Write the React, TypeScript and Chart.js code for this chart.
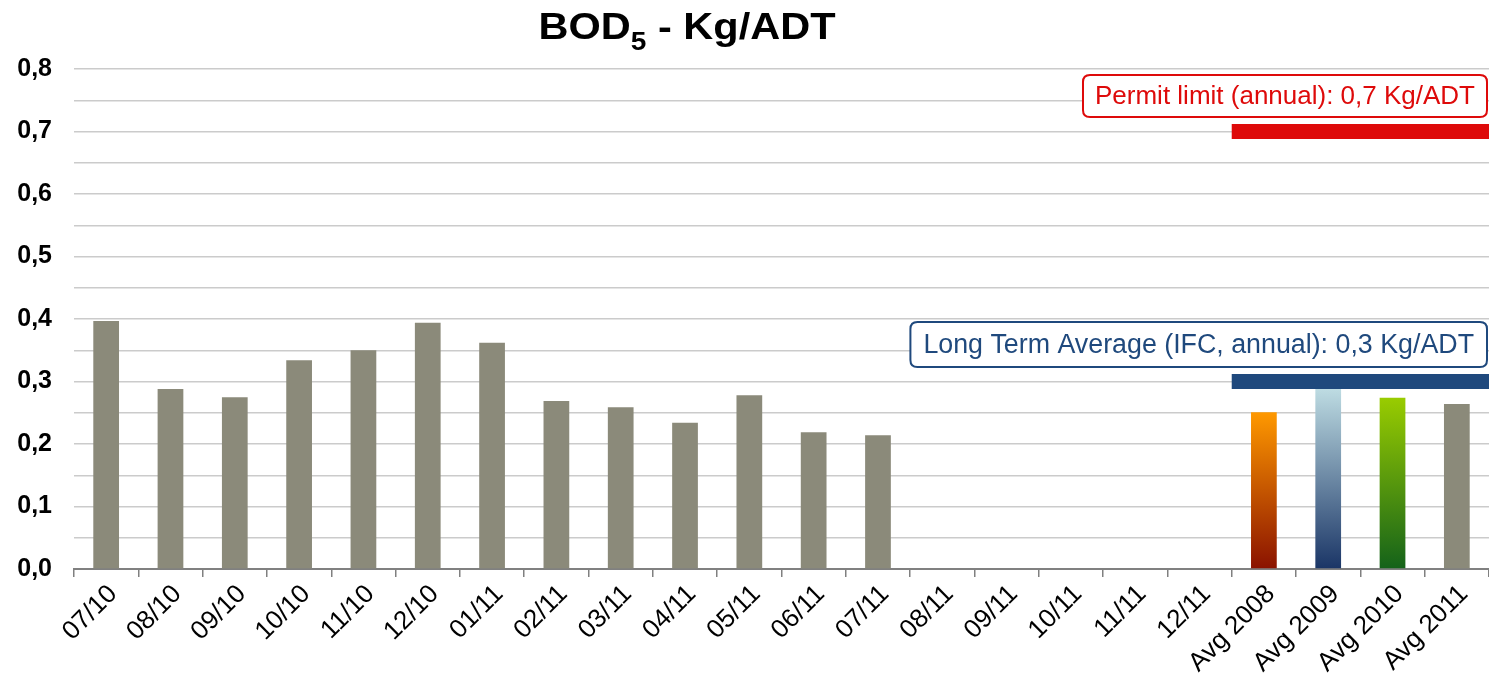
import React, { useEffect, useRef } from 'react';
import { Chart, registerables } from 'chart.js';

Chart.register(...registerables);

// ---- data ----
const categories = [
  '07/10', '08/10', '09/10', '10/10', '11/10', '12/10', '01/11', '02/11', '03/11',
  '04/11', '05/11', '06/11', '07/11', '08/11', '09/11', '10/11', '11/11', '12/11',
  'Avg 2008', 'Avg 2009', 'Avg 2010', 'Avg 2011',
];
const bodValues: (number | null)[] = [
  0.397, 0.288, 0.275, 0.334, 0.350, 0.394, 0.362, 0.269, 0.259,
  0.234, 0.278, 0.219, 0.214, null, null, null, null, null,
  0.251, 0.292, 0.274, 0.264,
];
const yMin = 0;
const yMax = 0.8;
const yGridStep = 0.05;
const permitLimit = 0.7;
const permitLabel = 'Permit limit (annual): 0,7 Kg/ADT';
const longTermAvg = 0.3;
const longTermLabel = 'Long Term Average (IFC, annual): 0,3 Kg/ADT';
const limitStartCategory = 'Avg 2008';
const titleMain = 'BOD';
const titleSub = '5';
const titleRest = ' - Kg/ADT';

// ---- styles ----
const GRAY = '#8B8A7A';
const barFills: Record<string, [string, string]> = {
  'Avg 2008': ['#FF9900', '#8A1200'],
  'Avg 2009': ['#C0DEE4', '#1A3566'],
  'Avg 2010': ['#99CC00', '#14621A'],
};
const RED = '#DE0A0A';
const BLUE = '#1F497D';
const FONT = '"Liberation Sans", Arial, sans-serif';

function roundRectPath(ctx: CanvasRenderingContext2D, x: number, y: number, w: number, h: number, r: number) {
  ctx.beginPath();
  ctx.moveTo(x + r, y);
  ctx.lineTo(x + w - r, y);
  ctx.quadraticCurveTo(x + w, y, x + w, y + r);
  ctx.lineTo(x + w, y + h - r);
  ctx.quadraticCurveTo(x + w, y + h, x + w - r, y + h);
  ctx.lineTo(x + r, y + h);
  ctx.quadraticCurveTo(x, y + h, x, y + h - r);
  ctx.lineTo(x, y + r);
  ctx.quadraticCurveTo(x, y, x + r, y);
  ctx.closePath();
}

const overlayPlugin = {
  id: 'overlay',
  afterDatasetsDraw(chart: any) {
    const { ctx, chartArea } = chart;
    const xs = chart.scales.x;
    const ys = chart.scales.y;
    const idx = categories.indexOf(limitStartCategory);
    const c0 = xs.getPixelForValue(idx);
    const c1 = xs.getPixelForValue(idx + 1);
    const left = c0 - (c1 - c0) / 2;
    const right = chartArea.right;

    const drawLimit = (value: number, color: string, label: string, boxH: number, fontSize: number, pad: number) => {
      const y = ys.getPixelForValue(value);
      const thick = 15;
      ctx.save();
      ctx.fillStyle = color;
      ctx.fillRect(left, y - thick / 2, right - left, thick);
      ctx.font = `${fontSize}px ${FONT}`;
      const tw = ctx.measureText(label).width;
      const bw = tw + pad * 2;
      const bx = right - 2 - bw;
      const by = y - thick / 2 - 7 - boxH;
      roundRectPath(ctx, bx, by, bw, boxH, 7);
      ctx.fillStyle = '#FFFFFF';
      ctx.fill();
      ctx.lineWidth = 2;
      ctx.strokeStyle = color;
      ctx.stroke();
      ctx.fillStyle = color;
      ctx.textAlign = 'left';
      ctx.textBaseline = 'middle';
      ctx.fillText(label, bx + pad, by + boxH / 2 + 1);
      ctx.restore();
    };
    drawLimit(longTermAvg, BLUE, longTermLabel, 45, 26.8, 13);
    drawLimit(permitLimit, RED, permitLabel, 42, 26, 12);
  },
  afterDraw(chart: any) {
    const { ctx } = chart;
    ctx.save();
    ctx.fillStyle = '#000000';
    ctx.textBaseline = 'alphabetic';
    ctx.textAlign = 'left';
    ctx.font = `bold 37px ${FONT}`;
    const w1 = ctx.measureText(titleMain).width;
    const w3 = ctx.measureText(titleRest).width;
    ctx.font = `bold 25px ${FONT}`;
    const w2 = ctx.measureText(titleSub).width;
    const raw = w1 + w2 + w3;
    const sx = 297 / raw;
    const cx = 687;
    ctx.translate(cx - 297 / 2, 0);
    ctx.scale(sx, 1);
    ctx.font = `bold 37px ${FONT}`;
    ctx.fillText(titleMain, 0, 39);
    ctx.font = `bold 25px ${FONT}`;
    ctx.fillText(titleSub, w1, 50);
    ctx.font = `bold 37px ${FONT}`;
    ctx.fillText(titleRest, w1 + w2, 39);
    ctx.restore();
  },
};

export default function App() {
  const ref = useRef<HTMLCanvasElement | null>(null);
  useEffect(() => {
    document.body.style.margin = '0';
    if (!ref.current) return;
    const chart = new Chart(ref.current, {
      type: 'bar',
      data: {
        labels: categories,
        datasets: [
          {
            data: bodValues,
            backgroundColor: (c: any) => {
              const cat = categories[c.dataIndex];
              const fill = barFills[cat];
              if (!fill) return GRAY;
              const chart = c.chart;
              const ys = chart.scales && chart.scales.y;
              const v = c.raw;
              if (!ys || v == null) return fill[0];
              const yTop = ys.getPixelForValue(v);
              const yBot = ys.getPixelForValue(0);
              if (!isFinite(yTop) || !isFinite(yBot)) return fill[0];
              const g = chart.ctx.createLinearGradient(0, yTop, 0, yBot);
              g.addColorStop(0, fill[0]);
              g.addColorStop(1, fill[1]);
              return g;
            },
            borderWidth: 0,
            categoryPercentage: 1,
            barPercentage: 0.4,
          },
        ],
      },
      options: {
        responsive: false,
        animation: false,
        layout: { padding: { top: 69, right: 0, left: 0, bottom: 0 } },
        plugins: {
          legend: { display: false },
          title: { display: false },
          tooltip: { enabled: false },
        },
        scales: {
          x: {
            offset: true,
            grid: {
              display: true,
              drawOnChartArea: false,
              drawTicks: true,
              tickLength: 8,
              color: '#808080',
              lineWidth: 1.5,
              offset: true,
            },
            border: { display: true, color: '#808080', width: 2 },
            ticks: {
              color: '#000000',
              font: { family: FONT, size: 26 },
              minRotation: 45,
              maxRotation: 45,
              autoSkip: false,
              padding: 2,
              labelOffset: 7,
            },
            afterFit: (s: any) => { s.height = 114; },
          },
          y: {
            min: yMin,
            max: yMax,
            border: { display: false },
            grid: {
              color: '#CBCBCB',
              lineWidth: 1.5,
              drawTicks: false,
              tickLength: 0,
            },
            ticks: {
              stepSize: yGridStep,
              autoSkip: false,
              color: '#000000',
              font: { family: FONT, size: 25, weight: 'bold' },
              padding: 22,
              callback: (v: any) => {
                const n = Number(v);
                if (Math.round(n * 20) % 2 !== 0) return '';
                return n.toFixed(1).replace('.', ',');
              },
            },
            afterFit: (s: any) => { s.width = 74; },
          },
        },
      },
      plugins: [overlayPlugin],
    });
    return () => chart.destroy();
  }, []);
  return (
    <div style={{ width: 1489, height: 683 }}>
      <canvas ref={ref} width={1489} height={683} style={{ display: 'block' }} />
    </div>
  );
}
